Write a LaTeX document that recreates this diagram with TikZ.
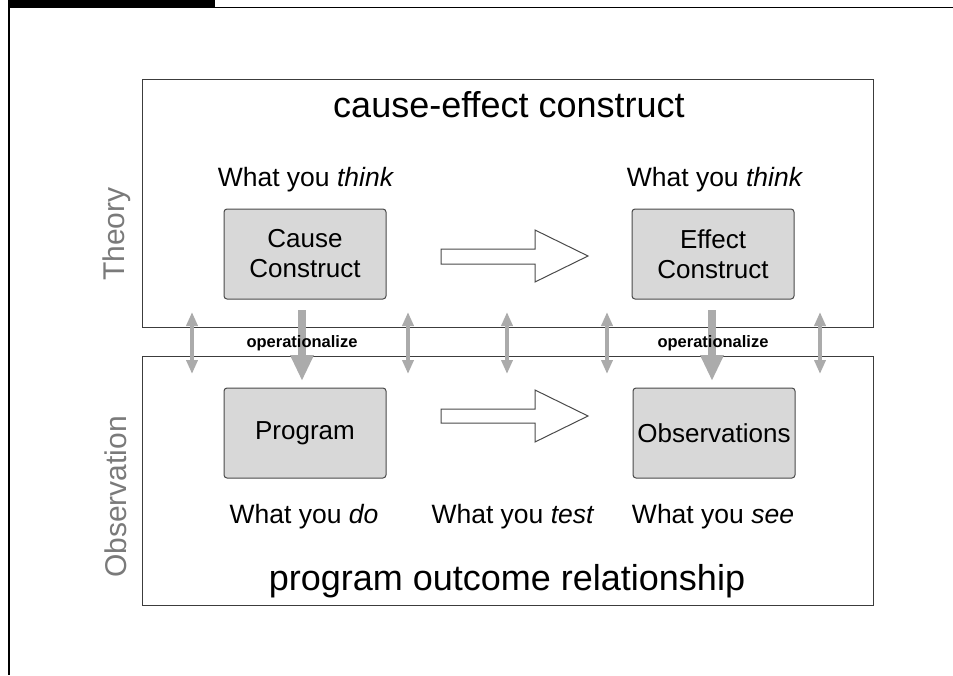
\documentclass[tikz,border=0pt]{standalone}
\usepackage{fontspec}
\setmainfont{Liberation Sans}
\usetikzlibrary{arrows.meta}
\definecolor{framec}{HTML}{3C3C3C}
\definecolor{boxfill}{HTML}{D8D8D8}
\definecolor{boxline}{HTML}{4A4A4A}
\definecolor{arrgray}{HTML}{ABABAB}
\definecolor{sidegray}{HTML}{7A7A7A}
\begin{document}
\begin{tikzpicture}[x=1pt,y=-1pt,
  frame/.style={draw=framec,line width=1pt},
  cbox/.style={draw=boxline,fill=boxfill,line width=1pt,rounded corners=3pt,
    minimum width=162pt,minimum height=90pt,align=center,inner sep=0pt,
    font=\fontsize{26}{30}\selectfont},
  lbl/.style={inner sep=0pt,font=\fontsize{26.5}{30}\selectfont},
  title/.style={inner sep=0pt,font=\fontsize{36}{40}\selectfont},
  side/.style={inner sep=0pt,rotate=90,text=sidegray,font=\fontsize{30}{34}\selectfont},
  oplbl/.style={inner sep=0pt,font=\bfseries\fontsize{16.5}{19}\selectfont},
  dbl/.style={draw=arrgray,line width=4pt,{Triangle[width=11pt,length=14pt]}-{Triangle[width=11pt,length=14pt]}},
  oparr/.style={draw=arrgray,line width=8pt,-{Triangle[width=22pt,length=26pt]}},
  hollow/.style={draw=boxline,fill=white,line width=1pt,line join=miter}
]
\useasboundingbox (0,0) rectangle (953,675);
% outer page frame
\fill[black] (8,0) rectangle (215,8);
\draw[line width=1.2pt] (215,7.5) -- (953,7.5);
\draw[line width=1.5pt] (9,7) -- (9,675);

% theory and observation frames
\draw[frame] (142,79) rectangle (873,327);
\draw[frame] (142,356) rectangle (873,605);

% titles
\node[title] (t1) at (509,105) {cause-effect construct};
\node[title] (t2) at (507,581) {program outcome relationship};
\node[side] (th) at (117,234) {Theory};
\node[side] (ob) at (116,497) {Observation};

% labels
\node[lbl] (w1) at (306,180) {What you \textit{think}};
\node[lbl] (w2) at (715,180) {What you \textit{think}};
\node[lbl] (w3) at (304,517) {What you \textit{do}};
\node[lbl] (w4) at (513,517) {What you \textit{test}};
\node[lbl] (w5) at (713,517) {What you \textit{see}};

% boxes
\node[cbox] (cc) at (305,254) {Cause\\Construct};
\node[cbox] (ec) at (713,254) {Effect\\Construct};
\node[cbox] (pg) at (305,433) {Program};
\node[cbox] (os) at (714,433) {Observations};

% hollow block arrows
\draw[hollow] (441,249) -- (535,249) -- (535,230) -- (588,256) -- (535,282) -- (535,264) -- (441,264) -- cycle;
\draw[hollow] (441,409) -- (535,409) -- (535,390) -- (588,416) -- (535,442) -- (535,423) -- (441,423) -- cycle;

% double arrows
\foreach \xx/\nm in {192/a,408/b,507/c,607/d,820/e}{
  \coordinate (\nm top) at (\xx,312);
  \coordinate (\nm bot) at (\xx,374);
  \draw[dbl] (\nm top) -- (\nm bot);
}

% operationalize arrows
\coordinate (o1s) at (302,310);
\coordinate (o1e) at (302,381);
\coordinate (o2s) at (712,310);
\coordinate (o2e) at (712,381);
\draw[oparr] (o1s) -- (o1e);
\draw[oparr] (o2s) -- (o2e);
\node[oplbl] (op1) at (302,343) {operationalize};
\node[oplbl] (op2) at (713,343) {operationalize};
\end{tikzpicture}
\end{document}
